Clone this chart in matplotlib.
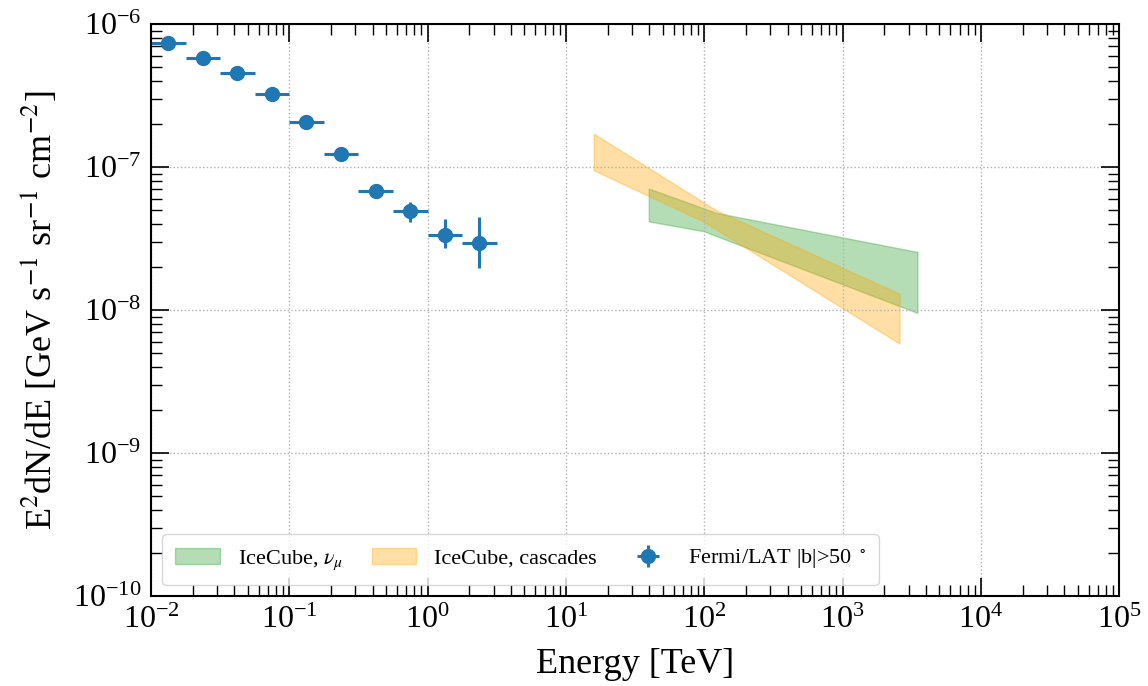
# Fermi/LAT high-latitude spectrum and IceCube neutrino bands
import numpy as np
import matplotlib
matplotlib.use('Agg')
import matplotlib.pyplot as plt

plt.rcParams['font.family'] = ['Liberation Serif', 'DejaVu Serif']
plt.rcParams['mathtext.fontset'] = 'stix'
plt.rcParams['axes.unicode_minus'] = False

# Fermi/LAT |b|>50 deg points (energy in TeV)
fermi_E = [0.0133, 0.0237, 0.0422, 0.075, 0.133, 0.237, 0.422, 0.75, 1.33, 2.37]
fermi_lo_edge = [0.01, 0.0178, 0.0316, 0.0562, 0.1, 0.178, 0.316, 0.562, 1.0, 1.78]
fermi_hi_edge = [0.0178, 0.0316, 0.0562, 0.1, 0.178, 0.316, 0.562, 1.0, 1.78, 3.16]
fermi_flux = [7.40e-7, 5.81e-7, 4.52e-7, 3.24e-7, 2.07e-7, 1.23e-7, 6.79e-8, 4.90e-8, 3.35e-8, 2.95e-8]
fermi_flux_hi = [7.6e-7, 5.95e-7, 4.63e-7, 3.33e-7, 2.13e-7, 1.28e-7, 7.1e-8, 5.72e-8, 4.33e-8, 4.45e-8]
fermi_flux_lo = [7.2e-7, 5.67e-7, 4.41e-7, 3.15e-7, 2.01e-7, 1.18e-7, 6.5e-8, 4.14e-8, 2.70e-8, 1.96e-8]

# IceCube nu_mu band (upper and lower envelope)
numu_up_E = [40, 123, 3500]
numu_up_flux = [7.02e-8, 4.74e-8, 2.53e-8]
numu_lo_E = [40, 100, 3500]
numu_lo_flux = [4.14e-8, 3.53e-8, 9.48e-9]

# IceCube cascades band
casc_up_E = [16, 123, 2600]
casc_up_flux = [1.70e-7, 4.95e-8, 1.29e-8]
casc_lo_E = [16, 100, 2600]
casc_lo_flux = [9.42e-8, 4.12e-8, 5.78e-9]

fig = plt.figure(figsize=(11.48, 6.86), dpi=100)
ax = fig.add_axes([0.1315, 0.131, 0.8435, 0.834])

# bands drawn as closed polygons: upper edge then lower edge reversed
ax.fill(numu_up_E + numu_lo_E[::-1], numu_up_flux + numu_lo_flux[::-1],
        color='tab:green', alpha=0.35, lw=1, label=r'IceCube, $\nu_\mu$')
ax.fill(casc_up_E + casc_lo_E[::-1], casc_up_flux + casc_lo_flux[::-1],
        color='orange', alpha=0.35, lw=1, label='IceCube, cascades')

E = np.array(fermi_E)
F = np.array(fermi_flux)
xerr = [E - np.array(fermi_lo_edge), np.array(fermi_hi_edge) - E]
yerr = [F - np.array(fermi_flux_lo), np.array(fermi_flux_hi) - F]
ax.errorbar(E, F, xerr=xerr, yerr=yerr, fmt='o', color='tab:blue',
            markersize=10, elinewidth=2.2, capsize=0,
            label=r'Fermi/LAT |b|>50 $^\circ$')

ax.set_xscale('log')
ax.set_yscale('log')
ax.set_xlim(1e-2, 1e5)
ax.set_ylim(1e-10, 1e-6)

ax.set_xlabel('Energy [TeV]', fontsize=26, labelpad=9)
ax.set_ylabel(r'E$^2$dN/dE [GeV s$^{-1}$ sr$^{-1}$ cm$^{-2}$]', fontsize=26, labelpad=10)

# ticks inside on every side
ax.tick_params(which='both', direction='in', top=True, right=True, labelsize=23)
ax.tick_params(which='major', length=13, width=1.2, pad=7)
ax.tick_params(which='minor', length=8, width=1.0)
for s in ax.spines.values():
    s.set_linewidth(1.5)

ax.grid(True, which='major', linestyle=':', color='#b0b0b0', linewidth=1.0)

ax.legend(loc='lower left', ncol=3, fontsize=16, columnspacing=1.3, borderpad=0.6)

fig.savefig('out.png', dpi=100)
